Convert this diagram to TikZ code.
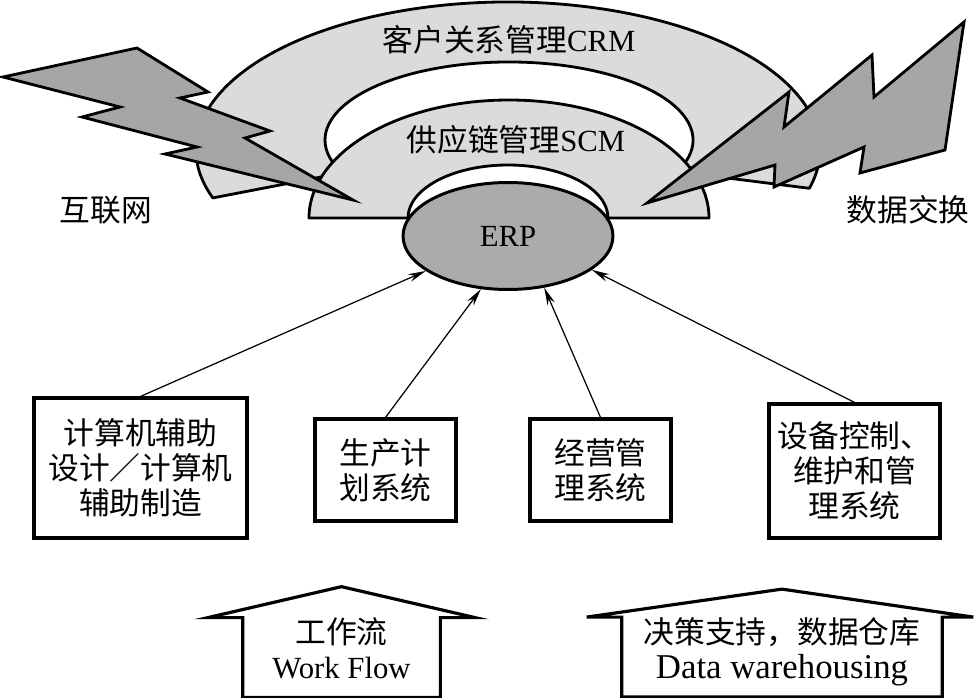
\documentclass[tikz,border=0pt]{standalone}
\usepackage{fontspec}
\setmainfont{Liberation Serif}
\newfontfamily\cjk{Noto Sans CJK SC}
\usetikzlibrary{shapes.geometric, arrows.meta, calc}

\definecolor{bandgray}{gray}{0.86}
\definecolor{boltgray}{gray}{0.65}
\definecolor{erpgray}{gray}{0.67}

\begin{document}
\begin{tikzpicture}[
    x=0.02cm, y=0.02cm,
    every node/.style={font=\fontsize{17.5}{20}\selectfont},
    band/.style={fill=bandgray, draw=black, line width=1.6pt, line join=round},
    bolt/.style={fill=boltgray, draw=black, line width=1.6pt},
    erpnode/.style={ellipse, draw, line width=1.7pt, fill=erpgray, minimum width=4.2cm, minimum height=2.14cm, inner sep=0pt},
    sysbox/.style={draw, line width=1.8pt, align=center, inner sep=2pt, font=\cjk\fontsize{17.5}{20}\selectfont},
    sidetext/.style={font=\cjk\fontsize{17.5}{20}\selectfont},
    housebody/.style={inner sep=0pt, align=center, text depth=0.36cm},
    house/.style={draw, line width=1.8pt},
    arrow/.style={-{Stealth[length=10pt, width=4.5pt]}, line width=0.7pt}
]
    \useasboundingbox (0,0) rectangle (974,697);

    \draw[band] ($(508,547)+(198.9:312 and 148)$) arc[start angle=198.9, end angle=-15, x radius=312, y radius=148]
        -- ($(509,557)+(-24:184 and 78)$) arc[start angle=-24, end angle=205, x radius=184, y radius=78] -- cycle;
    \draw[band] (309,479) arc[start angle=180, end angle=0, x radius=200, y radius=118]
        -- (608,479) arc[start angle=0, end angle=180, x radius=100, y radius=53] -- cycle;

    \draw[bolt] (3,620) -- (137,649) -- (208,605) -- (180,599) -- (270,566) -- (245,559) -- (353,497)
        -- (165,543) -- (197,550) -- (82,580) -- (120,590) -- cycle;
    \draw[bolt] (647,494) -- (789,605) -- (784,570) -- (872,642) -- (874,600) -- (964,675) -- (945,547)
        -- (860,524) -- (864,550) -- (774,510) -- (775,532) -- cycle;

    \node (crm) at (509,657) {{\cjk 客户关系管理}CRM};
    \node (scm) at (516,557) {{\cjk 供应链管理}SCM};
    \node[erpnode] (erp) at (508,461) {ERP};
    \node[sidetext] (internet) at (106,487) {互联网};
    \node[sidetext] (exchange) at (908,487) {数据交换};

    \node[sysbox, minimum width=4.26cm, minimum height=2.8cm] (cad) at (140.5,229) {计算机辅助\\设计／计算机\\辅助制造};
    \node[sysbox, minimum width=2.82cm, minimum height=2.04cm] (plan) at (385.5,227) {生产计\\划系统};
    \node[sysbox, minimum width=2.82cm, minimum height=2.04cm] (manage) at (600.5,227) {经营管\\理系统};
    \node[sysbox, minimum width=3.42cm, minimum height=2.68cm] (equip) at (854.5,226) {设备控制、\\维护和管\\理系统};

    \draw[arrow] (cad.north) -- (erp.-157);
    \draw[arrow] (plan.north) -- (erp.-117);
    \draw[arrow] (manage.north) -- (erp.-55);
    \draw[arrow] (equip.north) -- (erp.-22);

    \node[housebody, minimum width=3.94cm, minimum height=1.5cm] (workflow) at (341.5,39.5) {{\cjk 工作流}\\Work Flow};
    \draw[house] (workflow.south west) -- (workflow.north west) -- ++(-35,0) -- ($(workflow.north)+(0,31)$)
        -- ($(workflow.north east)+(35,0)$) -- (workflow.north east) -- (workflow.south east) -- cycle;
    \node[housebody, minimum width=6.4cm, minimum height=1.52cm] (datawh) at (782,40) {{\cjk 决策支持，数据仓库}\\{\fontsize{19.8}{20}\selectfont Data warehousing}};
    \draw[house] (datawh.south west) -- (datawh.north west) -- ++(-35,0) -- ($(datawh.north)+(0,28)$)
        -- ($(datawh.north east)+(31,0)$) -- (datawh.north east) -- (datawh.south east) -- cycle;
\end{tikzpicture}
\end{document}
